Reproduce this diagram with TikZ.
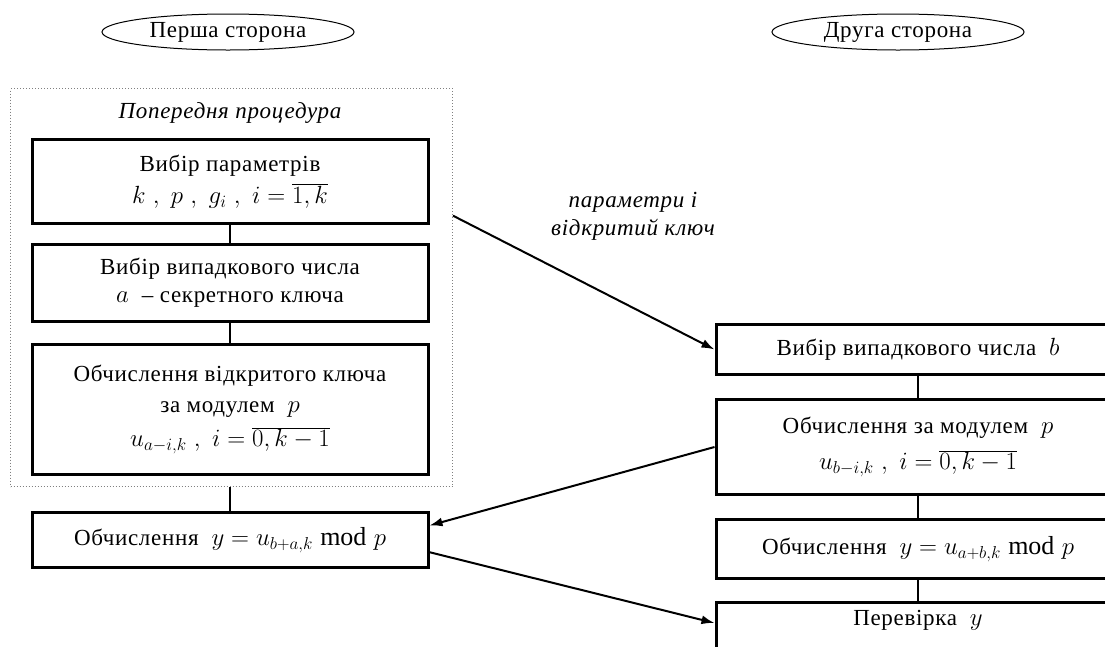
\documentclass[tikz,border=0pt]{standalone}
\usepackage{fontspec}
\setmainfont[LetterSpace=3]{Liberation Serif}
\usetikzlibrary{arrows.meta,shapes.geometric,calc}
\newcommand{\formula}[1]{{\fontsize{26}{28}\selectfont$#1$}}

\begin{document}
\begin{tikzpicture}[x=1pt,y=-1pt,font=\fontsize{23}{28}\selectfont,>={Latex[length=13pt,width=9pt]},
    side/.style={draw,ellipse,line width=1pt,minimum width=252pt,minimum height=36pt,inner sep=0pt},
    block/.style={draw,line width=3pt,minimum width=396pt,align=center,anchor=north},
    rblock/.style={block,minimum width=404pt},
    link/.style={line width=2.2pt},
    msg/.style={->,line width=2pt},
    note/.style={font=\fontsize{23}{28}\selectfont\itshape,align=center}]
  \useasboundingbox (0,0) rectangle (1105,646);
  % the two sides
  \node[side] (first) at (228,32) {Перша сторона};
  \node[side] (second) at (898,32) {Друга сторона};
  % preliminary part
  \node[draw,dotted,gray,line width=1pt,minimum width=442pt,minimum height=398pt,inner sep=0pt,anchor=north west]
    (prep) at (10,88) {};
  \node[note] (preptitle) at (230,113) {Попередня процедура};
  \node[block,minimum height=84pt] (params) at (230,138)
    {Вибір параметрів\\[4pt] \formula{k\ ,\ p\ ,\ g_i\ ,\ i=\overline{1,k}}};
  \node[block,minimum height=77pt] (secret) at (230,243)
    {Вибір випадкового числа\\ \formula{a}\ \ – секретного ключа};
  \node[block,minimum height=130pt] (pubkey) at (230,343)
    {Обчислення відкритого ключа\\[3pt] за модулем\ \ \formula{p}\\[6pt] \formula{u_{a-i,k}\ ,\ i=\overline{0,k-1}}};
  \node[block,minimum height=55pt] (lres) at (230,511)
    {Обчислення\ \ \formula{y=u_{b+a,k}\ \mathrm{mod}\ p}};
  % second side
  \node[rblock,minimum height=50pt] (choiceb) at (918,323) {Вибір випадкового числа\ \ \formula{b}};
  \node[rblock,minimum height=95pt] (modp) at (918,398)
    {Обчислення за модулем\ \ \formula{p}\\[8pt] \formula{u_{b-i,k}\ ,\ i=\overline{0,k-1}}};
  \node[rblock,minimum height=59pt] (rres) at (918,518)
    {Обчислення\ \ \formula{y=u_{a+b,k}\ \mathrm{mod}\ p}};
  \node[rblock,text height=20pt,text depth=34pt] (check) at (918,601) {Перевірка\ \ \formula{y}};

  \draw[link] (params) -- (secret);
  \draw[link] (secret) -- (pubkey);
  \draw[link] (lres.north |- prep.south) -- (lres.north);
  \draw[link] (choiceb) -- (modp);
  \draw[link] (modp) -- (rres);
  \draw[link] (rres) -- (check);

  \draw[msg] ($(prep.north east)!0.32!(prep.south east)$) -- (choiceb.west);
  \node[note] (msglabel) at (633,216) {параметри і\\ відкритий ключ};
  \draw[msg] (modp.west) -- ($(lres.north east)!0.25!(lres.south east)$);
  \draw[msg] ($(lres.north east)!0.71!(lres.south east)$) -- ($(check.north west)+(0,22)$);
\end{tikzpicture}
\end{document}
